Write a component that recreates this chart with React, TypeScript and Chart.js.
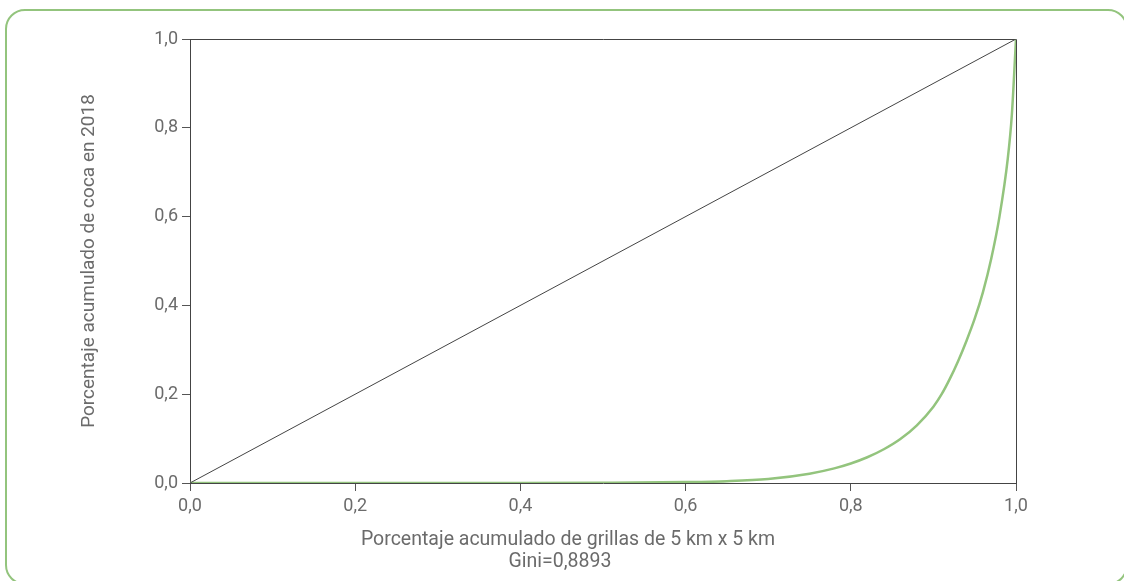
import React, { useEffect, useRef } from "react";
import { Chart, registerables } from "chart.js";

Chart.register(...registerables);

const lorenzX = [0, 0.1, 0.2, 0.3, 0.4, 0.5, 0.6, 0.65, 0.7, 0.75, 0.78, 0.8, 0.82, 0.84, 0.86, 0.88, 0.9, 0.91, 0.92, 0.93, 0.94, 0.95, 0.96, 0.97, 0.98, 0.99, 0.995, 1.0];
const lorenzY = [0, 0, 0, 0, 0, 0.0005, 0.002, 0.004, 0.009, 0.021, 0.033, 0.044, 0.058, 0.076, 0.099, 0.13, 0.172, 0.2, 0.235, 0.275, 0.32, 0.37, 0.43, 0.505, 0.6, 0.73, 0.83, 1.0];
const equalityX = [0, 1];
const equalityY = [0, 1];

const xTitle = "Porcentaje acumulado de grillas de 5 km x 5 km";
const giniLabel = "Gini=0,8893";
const yTitle = "Porcentaje acumulado de coca en 2018";

const GREEN = "#93c47d";
const TEXT = "#6b6b6b";
const FONT = "Roboto, 'Noto Sans', sans-serif";

const fmt = (v: number | string) => Number(v).toFixed(1).replace(".", ",");

export default function App() {
  const ref = useRef<HTMLCanvasElement | null>(null);

  useEffect(() => {
    if (!ref.current) return;
    const framePlugin = {
      id: "frame",
      beforeDatasetsDraw(chart: any) {
        const { ctx, chartArea } = chart;
        ctx.save();
        ctx.strokeStyle = "#444";
        ctx.lineWidth = 1;
        ctx.beginPath();
        ctx.moveTo(chartArea.left, chartArea.top + 0.5);
        ctx.lineTo(chartArea.right + 0.5, chartArea.top + 0.5);
        ctx.lineTo(chartArea.right + 0.5, chartArea.bottom);
        ctx.stroke();
        ctx.restore();
      },
      afterDraw(chart: any) {
        const { ctx, chartArea } = chart;
        ctx.save();
        ctx.fillStyle = TEXT;
        ctx.font = `19.5px ${FONT}`;
        ctx.textAlign = "center";
        ctx.textBaseline = "middle";
        ctx.fillText(xTitle, 568, 540);
        ctx.fillText(giniLabel, 560, 562);
        ctx.font = `19px ${FONT}`;
        ctx.translate(89, (chartArea.top + chartArea.bottom) / 2);
        ctx.rotate(-Math.PI / 2);
        ctx.fillText(yTitle, 0, 0);
        ctx.restore();
      },
    };

    const chart = new Chart(ref.current, {
      type: "line",
      data: {
        datasets: [
          {
            label: "Igualdad",
            data: equalityX.map((x, i) => ({ x, y: equalityY[i] })),
            borderColor: "#444",
            borderWidth: 1,
            pointRadius: 0,
            fill: false,
          },
          {
            label: "Lorenz",
            data: lorenzX.map((x, i) => ({ x, y: lorenzY[i] })),
            borderColor: GREEN,
            borderWidth: 2.5,
            pointRadius: 0,
            fill: false,
            cubicInterpolationMode: "monotone",
          },
        ],
      },
      options: {
        animation: false,
        responsive: false,
        layout: { padding: { top: 39, right: 108, left: 0, bottom: 0 } },
        plugins: { legend: { display: false }, tooltip: { enabled: false }, title: { display: false } },
        scales: {
          x: {
            type: "linear",
            min: 0,
            max: 1,
            ticks: { stepSize: 0.2, callback: (v: any) => fmt(v), color: TEXT, font: { size: 18, family: FONT }, padding: 5, maxRotation: 0 },
            grid: { drawOnChartArea: false, drawTicks: true, tickLength: 8, color: "#555" },
            border: { display: true, color: "#444", width: 1 },
            afterFit: (s: any) => { s.height = 98; },
          },
          y: {
            type: "linear",
            min: 0,
            max: 1,
            ticks: { stepSize: 0.2, callback: (v: any) => fmt(v), color: TEXT, font: { size: 18, family: FONT }, padding: 4 },
            grid: { drawOnChartArea: false, drawTicks: true, tickLength: 8, color: "#555" },
            border: { display: true, color: "#444", width: 1 },
            afterFit: (s: any) => { s.width = 190; },
          },
        },
      },
      plugins: [framePlugin],
    } as any);
    return () => chart.destroy();
  }, []);

  return (
    <div style={{ position: "fixed", left: 0, top: 0, width: 1124, height: 581, background: "#fff", overflow: "hidden" }}>
      <div
        style={{
          position: "absolute",
          left: 5,
          top: 9,
          width: 1123,
          height: 576,
          border: `2.5px solid ${GREEN}`,
          borderRadius: 20,
          boxSizing: "border-box",
        }}
      />
      <canvas ref={ref} width={1124} height={581} style={{ position: "absolute", left: 0, top: 0 }} />
    </div>
  );
}
